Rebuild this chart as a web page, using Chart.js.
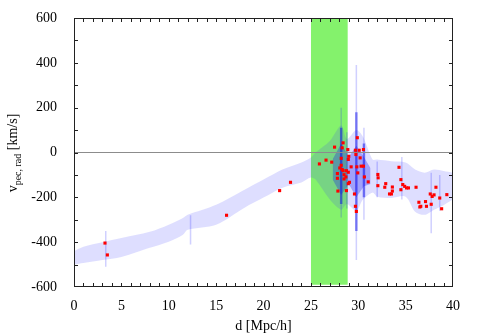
<!DOCTYPE html>
<html lang="en">
<head>
    <meta charset="UTF-8">
    <title>Radial peculiar velocity vs distance</title>
    <style>
        body { margin: 0; background: #fff; }
        #chart { display: block; }
    </style>
</head>
<body>
    <canvas id="chart" width="480" height="336"></canvas>

    <script src="https://cdn.jsdelivr.net/npm/chart.js@4"></script>
    <script>
        // tick labels
        const xTickLabels = [0, 5, 10, 15, 20, 25, 30, 35, 40];
        const yTickLabels = [-600, -400, -200, 0, 200, 400, 600];

        // red points (d, v_pec)
        const redX = [3.27, 3.52, 16.1, 21.7, 22.85,
            25.9, 26.6, 27.2, 27.5, 28.4, 28.3, 28.9, 28.2, 29.0, 28.2, 28.95, 28.3, 28.05, 28.4, 28.75,
            27.8, 28.95, 27.8, 28.5, 28.7, 28.5, 28.95, 29.07, 28.75, 27.85,
            29.9, 29.7, 30.1, 30.55, 29.75, 30.2, 29.25, 29.85, 30.3, 30.55, 29.95, 30.65, 31.05, 29.6, 29.7, 29.8,
            32.07, 32.1, 32.07, 32.9, 32.8, 33.3, 33.5, 33.6, 33.6, 34.3, 34.5, 34.5, 34.7, 34.9, 35.1, 35.3,
            36.1, 36.4, 36.5, 36.6, 37.1, 37.2, 37.6, 37.8, 37.7, 38.0, 38.2, 38.6, 38.8, 39.35];
        const redY = [-404, -457, -280, -170, -133,
            -51, -34, -43, 24, 43, 21, 13, -26, -17, -57, -31, -76, -69, -81, -81,
            -94, -88, -115, -99, -109, -118, -139, -133, -170, -172,
            66, 10, 10, 13, -9, -24, -64, -64, -61, -61, -91, -109, -131, -185, -240, -263,
            -98, -113, -148, -139, -155, -185, -185, -154, -172, -66, -121, -166, -143, -151, -158, -158,
            -155, -222, -243, -240, -219, -240, -185, -196, -231, -189, -155, -203, -251, -188];

        // blue cloud outline
        const envX   = [0, 1, 3, 5, 8, 10, 11.5, 12, 15, 18, 20, 22, 24, 25, 25.5, 27, 28.2, 28.8, 29.8, 30.5, 31.5, 32, 33.5, 35, 36, 37, 38, 39, 40];
        const envTop = [-440, -420, -400, -381, -354, -322, -292, -278, -233, -166, -121, -76, -45, -22, 0, 51, 120, 60, 100, 70, -31, -31, -39, -45, -76, -90, -76, -82, -90];
        const envBot = [-500, -493, -480, -466, -425, -398, -367, -345, -322, -246, -201, -157, -134, -112, -121, -210, -255, -230, -260, -210, -179, -197, -203, -197, -264, -278, -255, -235, -210];

        // denser part of the cloud
        const coreX   = [27.3, 28.2, 29.0, 29.8, 30.6, 31.3];
        const coreTop = [-30, 40, -20, 30, -20, -70];
        const coreBot = [-120, -190, -140, -200, -150, -140];

        // vertical streaks
        const spikeX   = [3.35, 12.3, 28.2, 28.8, 29.8, 30.6, 32.0, 34.6, 37.7, 38.6];
        const spikeTop = [-350, -280, 200, 90, 390, 110, -40, -20, -90, -100];
        const spikeBot = [-510, -410, -290, -250, -480, -300, -200, -210, -360, -260];
        const coreSpikeX   = [28.2, 29.8, 30.6];
        const coreSpikeTop = [110, 180, 40];
        const coreSpikeBot = [-230, -350, -200];

        // green band and zero line
        const bandX = [25, 28.9];
        const bandTop = 595, bandBottom = -590;
        const zeroX = [0, 40];

        const FONT = 'Liberation Serif, Times New Roman, serif';

        function pts(xs, ys) { return xs.map((x, i) => ({ x: x, y: ys[i] })); }
        function segs(xs, tops, bots) {
            const out = [];
            xs.forEach((x, i) => { out.push({ x: x, y: tops[i] }, { x: x, y: bots[i] }, { x: x, y: null }); });
            return out;
        }

        // frame, inward ticks and axis titles
        const framePlugin = {
            id: 'frame',
            afterDraw(chart) {
                const { ctx, chartArea: a, scales: { x, y } } = chart;
                ctx.save();
                ctx.strokeStyle = '#222';
                ctx.lineWidth = 1;
                ctx.beginPath();
                for (let v = 1; v < 40; v++) {
                    const px = Math.round(x.getPixelForValue(v)) + 0.5;
                    ctx.moveTo(px, a.bottom); ctx.lineTo(px, a.bottom - 4);
                    ctx.moveTo(px, a.top); ctx.lineTo(px, a.top + 4);
                }
                for (let v = -500; v < 600; v += 100) {
                    const py = Math.round(y.getPixelForValue(v)) + 0.5;
                    ctx.moveTo(a.left, py); ctx.lineTo(a.left + 4, py);
                    ctx.moveTo(a.right, py); ctx.lineTo(a.right - 4, py);
                }
                ctx.stroke();
                ctx.strokeRect(Math.round(a.left) + 0.5, Math.round(a.top) + 0.5,
                    Math.round(a.width) - 1, Math.round(a.height) - 1);

                ctx.fillStyle = '#000';
                ctx.font = '14px ' + FONT;
                ctx.textAlign = 'center';
                ctx.textBaseline = 'middle';
                ctx.fillText('d [Mpc/h]', (a.left + a.right) / 2, 326);

                // y title with subscript, rotated
                ctx.translate(13, 153);
                ctx.rotate(-Math.PI / 2);
                ctx.textAlign = 'left';
                ctx.textBaseline = 'alphabetic';
                const big = '14px ' + FONT, small = '10px ' + FONT;
                ctx.font = big;  const w1 = ctx.measureText('v').width;
                ctx.font = small; const w2 = ctx.measureText('pec, rad').width;
                ctx.font = big;  const w3 = ctx.measureText(' [km/s]').width;
                let cx = -(w1 + w2 + w3) / 2;
                ctx.font = big; ctx.fillText('v', cx, 4); cx += w1;
                ctx.font = small; ctx.fillText('pec, rad', cx, 8); cx += w2;
                ctx.font = big; ctx.fillText(' [km/s]', cx, 4);
                ctx.restore();
            }
        };

        new Chart(document.getElementById('chart'), {
            type: 'scatter',
            data: {
                datasets: [
                    {
                        data: pts(redX, redY), order: 0,
                        pointStyle: 'rect', pointRadius: 2.2, borderWidth: 0,
                        backgroundColor: '#ff0000'
                    },
                    {
                        type: 'line', data: pts(zeroX, [0, 0]), order: 1,
                        borderColor: '#8c8c8c', borderWidth: 1.2, pointRadius: 0, fill: false
                    },
                    {
                        type: 'line', data: segs(coreSpikeX, coreSpikeTop, coreSpikeBot), order: 2,
                        borderColor: 'rgba(0,0,230,0.45)', borderWidth: 2.5, pointRadius: 0, fill: false, spanGaps: false
                    },
                    {
                        type: 'line', data: segs(spikeX, spikeTop, spikeBot), order: 3,
                        borderColor: 'rgba(40,40,255,0.22)', borderWidth: 1.5, pointRadius: 0, fill: false, spanGaps: false
                    },
                    {
                        type: 'line', data: pts(coreX, coreTop), order: 4,
                        borderWidth: 0, pointRadius: 0, fill: false
                    },
                    {
                        type: 'line', data: pts(coreX, coreBot), order: 4,
                        borderWidth: 0, pointRadius: 0, fill: '-1',
                        backgroundColor: 'rgba(20,20,240,0.3)'
                    },
                    {
                        type: 'line', data: pts(envX, envTop), order: 5,
                        borderWidth: 0, pointRadius: 0, fill: false, tension: 0.3
                    },
                    {
                        type: 'line', data: pts(envX, envBot), order: 5,
                        borderWidth: 0, pointRadius: 0, fill: '-1', tension: 0.3,
                        backgroundColor: 'rgba(60,60,255,0.17)'
                    },
                    {
                        type: 'line', data: pts(bandX, [bandTop, bandTop]), order: 6,
                        borderWidth: 0, pointRadius: 0, fill: { value: bandBottom },
                        backgroundColor: '#84f26c'
                    }
                ]
            },
            options: {
                responsive: false,
                animation: false,
                layout: { padding: { top: 18, right: 27, left: 0, bottom: 0 } },
                plugins: { legend: { display: false }, tooltip: { enabled: false } },
                scales: {
                    x: {
                        type: 'linear', min: 0, max: 40,
                        grid: { display: false }, border: { display: false },
                        afterBuildTicks: s => { s.ticks = xTickLabels.map(v => ({ value: v })); },
                        afterFit: s => { s.height = 49; },
                        ticks: { color: '#000', font: { family: FONT, size: 14 }, padding: 3, maxRotation: 0, autoSkip: false }
                    },
                    y: {
                        type: 'linear', min: -600, max: 600,
                        grid: { display: false }, border: { display: false },
                        afterBuildTicks: s => { s.ticks = yTickLabels.map(v => ({ value: v })); },
                        afterFit: s => { s.width = 74; },
                        ticks: { color: '#000', font: { family: FONT, size: 14 }, padding: 9, autoSkip: false }
                    }
                }
            },
            plugins: [framePlugin]
        });
    </script>
</body>
</html>
